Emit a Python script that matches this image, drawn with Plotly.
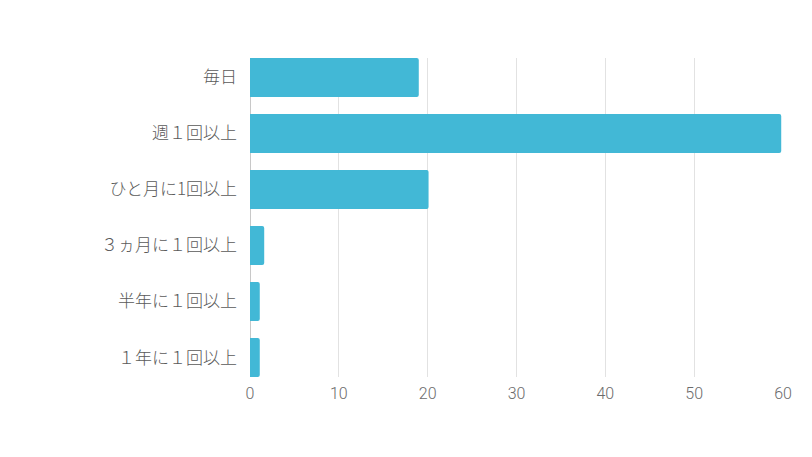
import plotly.graph_objects as go

# frequency categories (top to bottom) and their values
categories = ["毎日", "週１回以上", "ひと月に1回以上", "３ヵ月に１回以上", "半年に１回以上", "１年に１回以上"]
values = [19.0, 59.8, 20.1, 1.6, 1.1, 1.1]
x_ticks = [0, 10, 20, 30, 40, 50, 60]

bar_width = 0.694

fig = go.Figure()
fig.add_trace(go.Bar(
    y=categories,
    x=values,
    orientation="h",
    width=bar_width,
    marker=dict(color="#42b8d6", line=dict(width=0), cornerradius=2),
    hoverinfo="x+y",
    showlegend=False,
))

# the page body has an 8px margin, so the margins below are shifted by 8
fig.update_layout(
    width=812,
    height=457,
    margin=dict(l=242, r=37, t=50, b=88),
    paper_bgcolor="white",
    plot_bgcolor="white",
    font=dict(family="Roboto, Noto Sans CJK JP", size=16, color="#6b6b6b"),
    xaxis=dict(
        range=[0, 60],
        tickvals=x_ticks,
        showgrid=True,
        gridcolor="#e2e2e2",
        gridwidth=1,
        zeroline=True,
        zerolinecolor="#c8c8c8",
        zerolinewidth=1,
        ticks="",
        ticklabelstandoff=5,
        tickfont=dict(family="Roboto", size=16, color="#6b6b6b", weight=300),
        fixedrange=True,
    ),
    yaxis=dict(
        categoryorder="array",
        categoryarray=categories,
        range=[len(categories) - 1 + bar_width / 2, -bar_width / 2],
        showgrid=False,
        ticks="",
        ticklabelstandoff=12,
        tickfont=dict(family="Noto Sans CJK JP", size=17, color="#5a5a5a", weight=300),
        fixedrange=True,
    ),
)

fig.write_html("out.html")
